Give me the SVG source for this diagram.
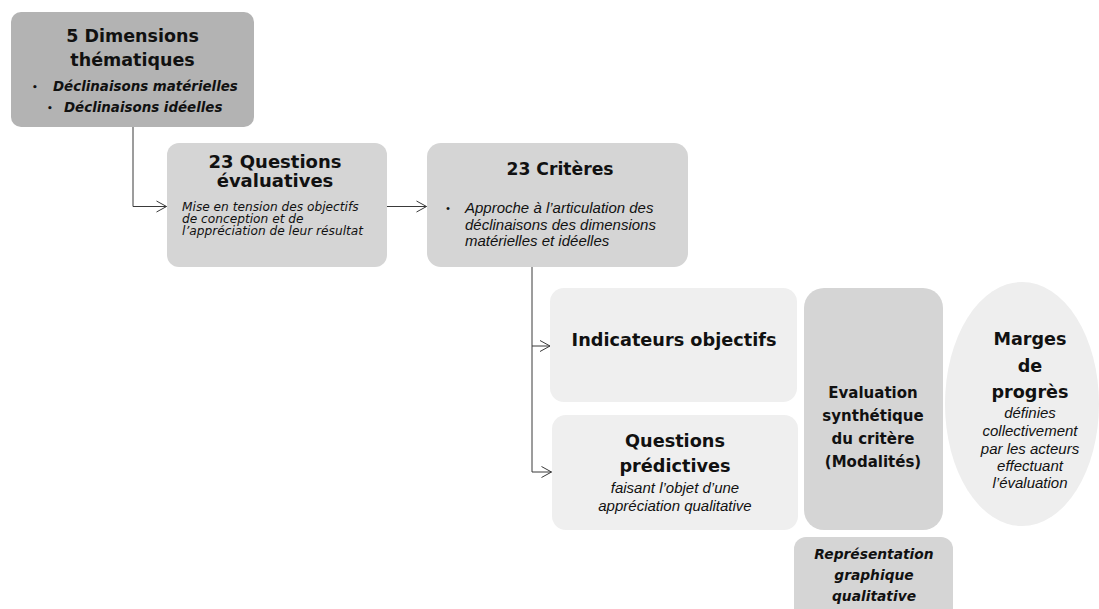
<svg xmlns="http://www.w3.org/2000/svg" width="1099" height="609" viewBox="0 0 1099 609">
<style>
.t{font-family:"DejaVu Sans",Verdana,sans-serif;font-weight:bold;fill:#111;text-anchor:middle}
.bi{font-family:"DejaVu Sans",Verdana,sans-serif;font-weight:bold;font-style:italic;fill:#111}
.vi{font-family:"DejaVu Sans",Verdana,sans-serif;font-style:italic;fill:#111}
.ci{font-family:"Liberation Sans",Arial,sans-serif;font-style:italic;fill:#111}
.dark{fill:#b3b3b3}
.mid{fill:#d5d5d5}
.light{fill:#efefef}
.conn{fill:none;stroke:#3a3a3a;stroke-width:1}
</style>
<defs>
<marker id="arr" markerWidth="12" markerHeight="14" refX="11" refY="7" orient="auto" markerUnits="userSpaceOnUse">
<path d="M1,1.5 L11,7 L1,12.5" fill="none" stroke="#3a3a3a" stroke-width="1"/>
</marker>
</defs>
<rect width="1099" height="609" fill="#ffffff"/>

<g id="connectors">
<path class="conn" d="M133,127 V206.5 H166.5" marker-end="url(#arr)"/>
<path class="conn" d="M387,206.5 H426.5" marker-end="url(#arr)"/>
<path class="conn" d="M532,346 H550" marker-end="url(#arr)"/>
<path class="conn" d="M532,267 V472 H551.5" marker-end="url(#arr)"/>
</g>

<g id="dimensions">
<rect class="dark" x="11" y="12" width="243" height="115" rx="10"/>
<text class="t" x="132.5" y="42" font-size="17.5">5 Dimensions</text>
<text class="t" x="132.5" y="66" font-size="17.5">thématiques</text>
<text class="bi" x="32" y="90" font-size="9">•</text>
<text class="bi" x="53" y="91" font-size="13.4">Déclinaisons matérielles</text>
<text class="bi" x="47" y="111" font-size="9">•</text>
<text class="bi" x="64" y="112" font-size="13.4">Déclinaisons idéelles</text>
</g>

<g id="questions-evaluatives">
<rect class="mid" x="167" y="143" width="220" height="124" rx="12"/>
<text class="t" x="275" y="168" font-size="18">23 Questions</text>
<text class="t" x="275" y="187" font-size="18">évaluatives</text>
<text class="vi" x="182" y="210.5" font-size="12.2">Mise en tension des objectifs</text>
<text class="vi" x="182" y="222.5" font-size="12.2">de conception et de</text>
<text class="vi" x="182" y="234.5" font-size="12.2">l’appréciation de leur résultat</text>
</g>

<g id="criteres">
<rect class="mid" x="427" y="143" width="261" height="124" rx="14"/>
<text class="t" x="560" y="175" font-size="17.2">23 Critères</text>
<text class="ci" x="446" y="212" font-size="11">•</text>
<text class="ci" x="465" y="213" font-size="15">Approche à l’articulation des</text>
<text class="ci" x="465" y="229.5" font-size="15">déclinaisons des dimensions</text>
<text class="ci" x="465" y="246" font-size="15">matérielles et idéelles</text>
</g>

<g id="indicateurs">
<rect class="light" x="550" y="288" width="247" height="114" rx="14"/>
<text class="t" x="674" y="346" font-size="17.7">Indicateurs objectifs</text>
</g>

<g id="questions-predictives">
<rect class="light" x="552" y="415" width="246" height="115" rx="14"/>
<text class="t" x="675" y="447" font-size="17.7">Questions</text>
<text class="t" x="675" y="472" font-size="17.7">prédictives</text>
<text class="ci" x="675" y="493" font-size="15" text-anchor="middle">faisant l’objet d’une</text>
<text class="ci" x="675" y="510.5" font-size="15" text-anchor="middle">appréciation qualitative</text>
</g>

<g id="evaluation">
<rect class="mid" x="804" y="288" width="139" height="242" rx="20"/>
<text class="t" x="873" y="398" font-size="15">Evaluation</text>
<text class="t" x="873" y="421" font-size="15">synthétique</text>
<text class="t" x="873" y="444" font-size="15">du critère</text>
<text class="t" x="873" y="467" font-size="15">(Modalités)</text>
</g>

<g id="marges">
<ellipse cx="1022" cy="404" rx="77" ry="122" fill="#eeeeee"/>
<text class="t" x="1030" y="345" font-size="17.6">Marges</text>
<text class="t" x="1030" y="372" font-size="17.6">de</text>
<text class="t" x="1030" y="398" font-size="17.6">progrès</text>
<g class="ci" font-size="15" text-anchor="middle">
<text x="1030" y="418">définies</text>
<text x="1030" y="436">collectivement</text>
<text x="1030" y="453.5">par les acteurs</text>
<text x="1030" y="471">effectuant</text>
<text x="1030" y="488">l’évaluation</text>
</g>
</g>

<g id="representation">
<rect class="mid" x="794" y="537" width="159" height="90" rx="12"/>
<g class="bi" font-size="13.8" text-anchor="middle">
<text x="874" y="559">Représentation</text>
<text x="874" y="580">graphique</text>
<text x="874" y="601">qualitative</text>
</g>
</g>
</svg>
